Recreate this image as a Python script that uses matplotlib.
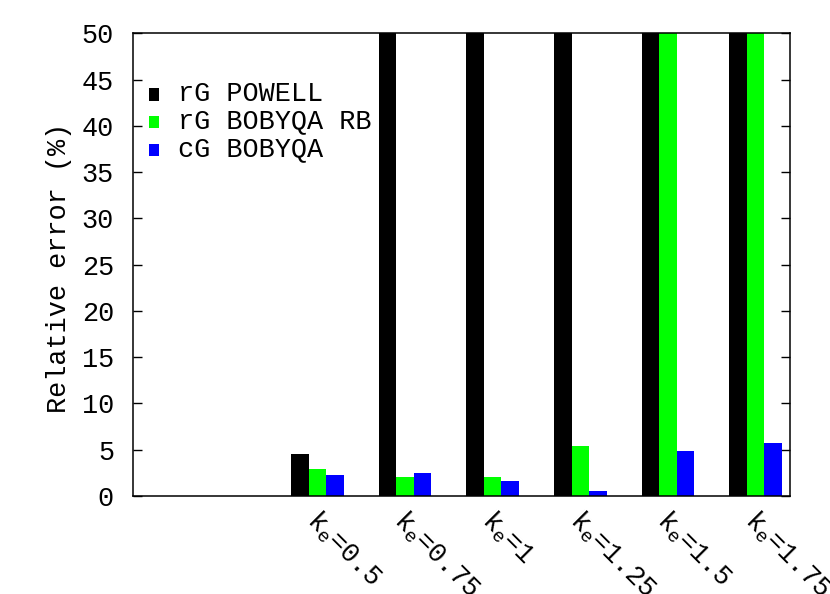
import matplotlib
matplotlib.use("Agg")
import matplotlib.pyplot as plt
from matplotlib.patches import Rectangle
from matplotlib.transforms import ScaledTranslation, blended_transform_factory
import numpy as np

plt.rcParams['font.family'] = ['Liberation Mono', 'DejaVu Sans']
plt.rcParams['mathtext.fontset'] = 'custom'
plt.rcParams['mathtext.rm'] = 'Liberation Mono'
plt.rcParams['mathtext.it'] = 'Liberation Mono'
plt.rcParams['mathtext.tt'] = 'Liberation Mono'

# ---- data ----
categories = ['0.5', '0.75', '1', '1.25', '1.5', '1.75']
tick_labels = [r'$\mathtt{k_e}$=' + c for c in categories]
series_names = ['rG POWELL', 'rG BOBYQA RB', 'cG BOBYQA']
rg_powell = [4.5, 50, 50, 50, 50, 50]
rg_bobyqa_rb = [2.9, 2.0, 2.1, 5.4, 50, 50]
cg_bobyqa = [2.25, 2.45, 1.6, 0.5, 4.85, 5.7]
colors = ['#000000', '#00ff00', '#0000ff']
y_ticks = [0, 5, 10, 15, 20, 25, 30, 35, 40, 45, 50]

FS = 19.4
fig = plt.figure(figsize=(8.3, 5.94), dpi=100)
W, H = 830, 594
ax_l, ax_r, ax_t, ax_b = 133, 790, 33.3, 496
ax = fig.add_axes([ax_l / W, 1 - ax_b / H, (ax_r - ax_l) / W, (ax_b - ax_t) / H])

x = np.arange(len(categories))
bw = 0.2
for k, (vals, col) in enumerate(zip([rg_powell, rg_bobyqa_rb, cg_bobyqa], colors)):
    ax.bar(x + (k - 1) * bw, vals, width=bw, color=col, linewidth=0, zorder=2)

ax.set_xlim(-2.106, 5.394)
ax.set_ylim(0, 50)
ax.set_yticks(y_ticks)
ax.set_yticklabels([str(v) for v in y_ticks], fontsize=FS)
ax.set_xticks([])
ax.tick_params(axis='y', direction='in', length=6.5, width=1.0, pad=13.7,
               left=True, right=True, labelleft=True, labelright=False)
for s in ax.spines.values():
    s.set_linewidth(1.1)
    s.set_zorder(3)

# x category labels, rotated clockwise
trans = ax.get_xaxis_transform()
for xi, lab in zip(x, tick_labels):
    off = ScaledTranslation(-0.12, -0.25, fig.dpi_scale_trans)
    ax.text(xi, 0, lab, transform=trans + off, rotation=-45,
            rotation_mode='anchor', ha='left', va='baseline', fontsize=FS,
            clip_on=False)

# y label
ax.text((59 - ax_l) / (ax_r - ax_l), (ax_b - 267.5) / (ax_b - ax_t),
        'Relative error (%)', transform=ax.transAxes, rotation=90,
        ha='center', va='center', fontsize=FS)

# legend (manual, gnuplot style)
pxw = ax_r - ax_l
pxh = ax_b - ax_t
baselines = [100.7, 128.3, 156.0]
for name, col, bl in zip(series_names, colors, baselines):
    top = bl - 12.4
    ax.add_patch(Rectangle(((149 - ax_l) / pxw, (ax_b - bl) / pxh), 10 / pxw, 12.4 / pxh,
                           transform=ax.transAxes, facecolor=col, edgecolor='none',
                           zorder=4))
    ax.text((178 - ax_l) / pxw, (ax_b - bl) / pxh, name, transform=ax.transAxes,
            ha='left', va='baseline', fontsize=FS, zorder=4)

fig.savefig('out.png', dpi=100)
